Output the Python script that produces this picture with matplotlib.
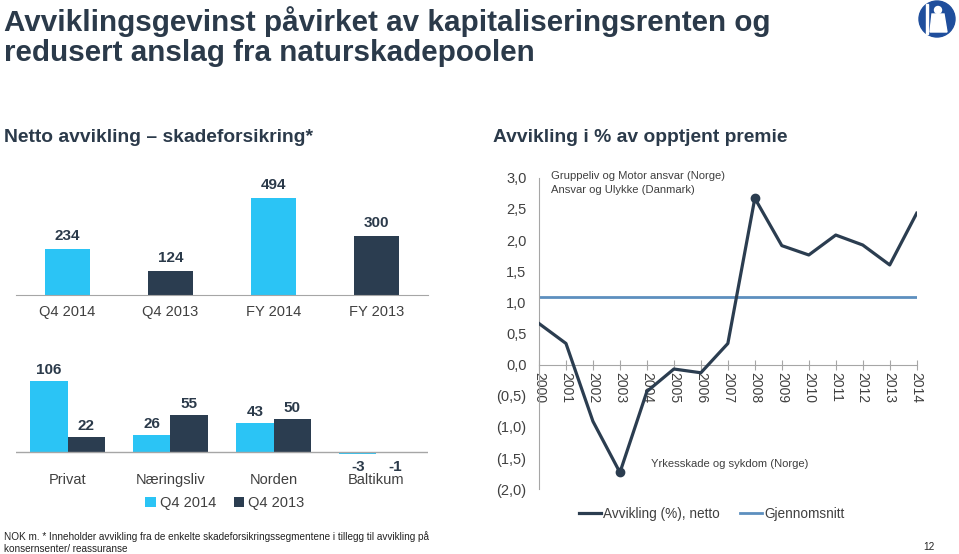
import matplotlib.pyplot as plt
import matplotlib.patches as mpatches
from matplotlib.ticker import FuncFormatter

plt.rcParams['font.family'] = ['Liberation Sans', 'DejaVu Sans']

# --- data -------------------------------------------------------------
total_labels = ['Q4 2014', 'Q4 2013', 'FY 2014', 'FY 2013']
total_values = [234, 124, 494, 300]

segments = ['Privat', 'Næringsliv', 'Norden', 'Baltikum']
seg_q4_2014 = [106, 26, 43, -3]
seg_q4_2013 = [22, 55, 50, -1]

years = list(range(2000, 2015))
avvikling = [0.66, 0.34, -0.91, -1.73, -0.43, -0.07, -0.13, 0.34,
             2.67, 1.91, 1.76, 2.08, 1.92, 1.60, 2.43]
gjennomsnitt = 1.09

LIGHT = '#2bc4f5'
DARK = '#2b3d50'
AVG = '#5d8fbf'
NAVY = '#2b3a4a'
GREY = '#404040'
AXIS = '#a6a6a6'

W, H = 959, 554
fig = plt.figure(figsize=(W / 100, H / 100), dpi=100)


def px_axes(left, top, right, bottom):
    # axes from pixel box (origin top-left)
    return fig.add_axes([left / W, 1 - bottom / H, (right - left) / W, (bottom - top) / H])


# --- titles -----------------------------------------------------------
fig.text(4 / W, 1 - 22 / H, 'Avviklingsgevinst påvirket av kapitaliseringsrenten og',
         fontsize=21.3, fontweight='bold', color=NAVY, va='center')
fig.text(4 / W, 1 - 53 / H, 'redusert anslag fra naturskadepoolen',
         fontsize=21.3, fontweight='bold', color=NAVY, va='center')
fig.text(4 / W, 1 - 138 / H, 'Netto avvikling – skadeforsikring*',
         fontsize=13.9, fontweight='bold', color=NAVY, va='center')
fig.text(493 / W, 1 - 138 / H, 'Avvikling i % av opptjent premie',
         fontsize=13.9, fontweight='bold', color=NAVY, va='center')

# logo
logo = mpatches.Ellipse((937 / W, 1 - 19 / H), 36 / W, 36 / H, transform=fig.transFigure,
                        color='#1f4e9c')
fig.patches.append(logo)
fig.patches.append(mpatches.Ellipse((938 / W, 1 - 10 / H), 7 / W, 7 / H,
                                    transform=fig.transFigure, color='white'))
fig.patches.append(mpatches.Polygon([(932 / W, 1 - 14 / H), (944 / W, 1 - 14 / H),
                                     (947 / W, 1 - 32 / H), (930 / W, 1 - 32 / H)],
                                    transform=fig.transFigure, color='white'))
fig.patches.append(mpatches.Rectangle((926 / W, 1 - 34 / H), 1.5 / W, 30 / H,
                                      transform=fig.transFigure, color='white'))

# --- top-left: totals -------------------------------------------------
ax1 = px_axes(16, 180, 428, 295)
x = range(len(total_labels))
bars = ax1.bar(x, total_values, width=0.44, color=[LIGHT, DARK, LIGHT, DARK])
for b, v in zip(bars, total_values):
    ax1.annotate(str(v), (b.get_x() + b.get_width() / 2, v), xytext=(0, 4),
                 textcoords='offset points', ha='center', va='bottom',
                 fontsize=11, fontweight='bold', color=NAVY)
ax1.set_xlim(-0.5, 3.5)
ax1.set_ylim(0, 585)
ax1.set_xticks(list(x))
ax1.set_xticklabels(total_labels, fontsize=10.5, color=GREY)
ax1.tick_params(length=0, pad=7)
ax1.set_yticks([])
for s in ['top', 'left', 'right']:
    ax1.spines[s].set_visible(False)
ax1.spines['bottom'].set_color(AXIS)

# --- bottom-left: segments -------------------------------------------
ax2 = px_axes(16, 360, 428, 462)
bw = 0.36
xs = range(len(segments))
b1 = ax2.bar([i - bw / 2 for i in xs], seg_q4_2014, width=bw, color=LIGHT, label='Q4 2014')
b2 = ax2.bar([i + bw / 2 for i in xs], seg_q4_2013, width=bw, color=DARK, label='Q4 2013')
for bs, vals in [(b1, seg_q4_2014), (b2, seg_q4_2013)]:
    for b, v in zip(bs, vals):
        cx = b.get_x() + b.get_width() / 2
        if v >= 0:
            ax2.annotate(str(v), (cx, v), xytext=(0, 3), textcoords='offset points',
                         ha='center', va='bottom', fontsize=11, fontweight='bold', color=NAVY)
        else:
            ax2.annotate(str(v), (cx, 0), xytext=(0, -5.5), textcoords='offset points',
                         ha='center', va='top', fontsize=11, fontweight='bold', color=NAVY)
ax2.axhline(0, color=AXIS, lw=1)
ax2.set_xlim(-0.5, 3.5)
ax2.set_ylim(-15, 138)
ax2.set_xticks(list(xs))
ax2.set_xticklabels(segments, fontsize=10.5, color=GREY)
ax2.tick_params(length=0, pad=8)
ax2.set_yticks([])
for s in ax2.spines.values():
    s.set_visible(False)
fig.legend(handles=[b1, b2], loc='center', bbox_to_anchor=(225 / W, 1 - 503 / H),
           ncol=2, frameon=False, fontsize=10.5, handlelength=0.7, handleheight=0.7,
           handletextpad=0.3, columnspacing=1.2, labelcolor=GREY)

# --- right: line chart ------------------------------------------------
ax3 = px_axes(539, 177.7, 916.7, 489.3)
ax3.spines['bottom'].set_position(('data', 0))
ax3.spines['bottom'].set_color(AXIS)
ax3.spines['left'].set_color(AXIS)
ax3.spines['top'].set_visible(False)
ax3.spines['right'].set_visible(False)
line, = ax3.plot(years, avvikling, color=DARK, lw=2.3, label='Avvikling (%), netto', zorder=3)
ax3.plot([years[3], years[8]], [avvikling[3], avvikling[8]], 'o', color=DARK, ms=6, zorder=4)
avg, = ax3.plot([years[0], years[-1]], [gjennomsnitt, gjennomsnitt], color=AVG, lw=2,
                label='Gjennomsnitt', zorder=2)
ax3.set_xlim(2000, 2014)
ax3.set_ylim(-2, 3)
ax3.set_yticks([3, 2.5, 2, 1.5, 1, 0.5, 0, -0.5, -1, -1.5, -2])
ax3.yaxis.set_major_formatter(FuncFormatter(
    lambda v, p: f'{v:.1f}'.replace('.', ',') if v >= 0 else f'({-v:.1f})'.replace('.', ',')))
ax3.tick_params(axis='y', length=0, pad=9, labelsize=10.5, labelcolor=GREY)
ax3.set_xticks(years)
ax3.set_xticklabels([str(y) for y in years], fontsize=10, color=GREY)
ax3.tick_params(axis='x', direction='inout', length=7, color=AXIS, pad=2, labelrotation=270)
for lbl in ax3.get_xticklabels():
    lbl.set_va('top')
    lbl.set_ha('center')
ax3.text(551 / W, 1 - 176 / H, 'Gruppeliv og Motor ansvar (Norge)', transform=fig.transFigure,
         fontsize=8.1, color=GREY, va='center')
ax3.text(551 / W, 1 - 190 / H, 'Ansvar og Ulykke (Danmark)', transform=fig.transFigure,
         fontsize=8.1, color=GREY, va='center')
ax3.text(651 / W, 1 - 464 / H, 'Yrkesskade og sykdom (Norge)', transform=fig.transFigure,
         fontsize=8.1, color=GREY, va='center')
fig.legend(handles=[line, avg], loc='center',
           bbox_to_anchor=(712 / W, 1 - 514 / H), ncol=2, frameon=False, fontsize=9.8,
           handlelength=1.6, handletextpad=0.15, columnspacing=1.5, labelcolor=GREY)

# --- footnote ---------------------------------------------------------
fig.text(4 / W, 1 - 537 / H,
         'NOK m. * Inneholder avvikling fra de enkelte skadeforsikringssegmentene i tillegg til avvikling på',
         fontsize=7.2, color='#222222', va='center')
fig.text(4 / W, 1 - 549 / H, 'konsernsenter/ reassuranse', fontsize=7.2, color='#222222', va='center')
fig.text(923 / W, 1 - 547 / H, '12', fontsize=7.2, color='#222222', va='center')

fig.savefig('out.png', dpi=100)
